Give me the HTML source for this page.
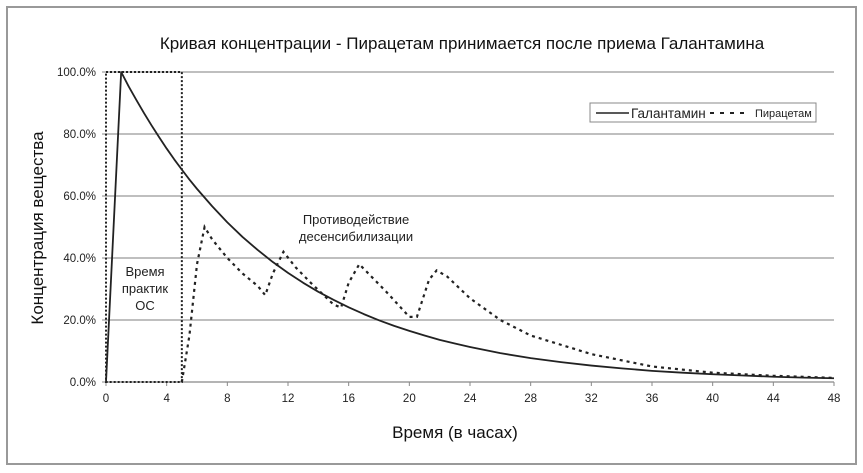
<!DOCTYPE html>
<html><head><meta charset="utf-8"><style>
body{margin:0;background:#fff;}
svg{display:block;font-family:"Liberation Sans","DejaVu Sans",sans-serif;}
</style></head><body>
<svg id="chart" width="863" height="473" viewBox="0 0 863 473">
<rect x="7" y="7" width="849" height="457" fill="#fff" stroke="#999" stroke-width="2"/>
<text x="462" y="49" text-anchor="middle" font-size="17" fill="#111">Кривая концентрации - Пирацетам принимается после приема Галантамина</text>
<g id="grid"></g>
<g id="axes"></g>
<text x="0" y="0" transform="translate(43,228) rotate(-90)" text-anchor="middle" font-size="17" fill="#111">Концентрация вещества</text>
<text x="455" y="438" text-anchor="middle" font-size="17" fill="#111">Время (в часах)</text>
<g id="series"></g>
<text x="145" y="276" text-anchor="middle" font-size="13" fill="#222"><tspan x="145">Время</tspan><tspan x="145" dy="17">практик</tspan><tspan x="145" dy="17">ОС</tspan></text>
<text x="356" y="224" text-anchor="middle" font-size="13" fill="#222"><tspan x="356">Противодействие</tspan><tspan x="356" dy="17">десенсибилизации</tspan></text>
<g>
<rect x="590" y="103" width="226" height="19" fill="#fff" stroke="#888" stroke-width="1"/>
<line x1="596" y1="113" x2="629" y2="113" stroke="#222" stroke-width="1.5"/>
<text x="631" y="118" font-size="13.5" fill="#222">Галантамин</text>
<line x1="710" y1="113" x2="750" y2="113" stroke="#222" stroke-width="2" stroke-dasharray="4,6"/>
<text x="755" y="117" font-size="11" fill="#222">Пирацетам</text>
</g>
</svg>
<script>
const xTicks = [0,4,8,12,16,20,24,28,32,36,40,44,48];
const yTicks = [0,20,40,60,80,100];
const yTickLabels = ["0.0%","20.0%","40.0%","60.0%","80.0%","100.0%"];
const galT = [0,1,1.5,2,2.5,3,3.5,4,4.5,5,5.5,6,7,8,9,10,11,12,13,14,15,16,17,18,19,20,21,22,23,24,26,28,30,32,34,36,38,40,42,44,46,48];
const galV = [0,100,95.3,91,86.8,82.8,79,75.3,71.8,68.5,65.3,62.3,56.7,51.5,46.8,42.6,38.7,35.2,32,29.1,26.5,24.1,21.9,19.9,18.1,16.5,15,13.6,12.4,11.3,9.3,7.7,6.4,5.3,4.4,3.6,3,2.5,2.1,1.7,1.4,1.2];
const pirT = [5,5.5,6,6.5,7,8,9,10,10.5,11,11.7,12.5,13.5,15,15.5,16,16.7,17.5,18.5,20,20.5,21.3,21.8,22.5,24,26,28,32,36,40,44,48];
const pirV = [0,15,38,50,46,40,35,31,28,35,42,37,32,25,24,32,38,34,29,21,21,33,36,34,27,20,15,9,5,3,2,1.3];
const boxT = [0,5];
const boxV = [0,100];
const X0=106,X1=834,Y0=382,Y1=72;
const sx=t=>X0+(t/48)*(X1-X0);
const sy=v=>Y0-(v/100)*(Y0-Y1);
const NS="http://www.w3.org/2000/svg";
function mk(tag,attrs,parent){const e=document.createElementNS(NS,tag);for(const k in attrs)e.setAttribute(k,attrs[k]);parent.appendChild(e);return e;}
const grid=document.getElementById('grid'),axes=document.getElementById('axes'),series=document.getElementById('series');
yTicks.forEach((v,i)=>{
  if(v>0){const l=mk('line',{x1:X0,x2:X1,y1:sy(v),y2:sy(v),stroke:'#999','stroke-width':1.2},grid);
  
  }
  const t=mk('text',{x:X0-10,y:sy(v)+4,'text-anchor':'end','font-size':11.5,fill:'#222'},axes);
  t.textContent=yTickLabels[i];
  
  
  const tk=mk('line',{x1:X0-4,x2:X0,y1:sy(v),y2:sy(v),stroke:'#888'},axes);
  
  
});
const xa=mk('line',{x1:X0,x2:X1,y1:Y0,y2:Y0,stroke:'#888','stroke-width':1.2},axes);


xTicks.forEach(v=>{
  const tk=mk('line',{x1:sx(v),x2:sx(v),y1:Y0,y2:Y0+4,stroke:'#888'},axes);
  
  
  const t=mk('text',{x:sx(v),y:Y0+20,'text-anchor':'middle','font-size':11.5,fill:'#222'},axes);
  t.textContent=v;
  
  
});
const box=mk('rect',{x:sx(boxT[0]),y:sy(boxV[1]),width:sx(boxT[1])-sx(boxT[0]),height:sy(boxV[0])-sy(boxV[1]),fill:'none',stroke:'#222','stroke-width':2,'stroke-dasharray':'2,2'},series);


const gp=mk('polyline',{points:galT.map((t,i)=>sx(t)+','+sy(galV[i])).join(' '),fill:'none',stroke:'#222','stroke-width':1.8,'stroke-linejoin':'round'},series);


const pp=mk('polyline',{points:pirT.map((t,i)=>sx(t)+','+sy(pirV[i])).join(' '),fill:'none',stroke:'#222','stroke-width':2.2,'stroke-dasharray':'3,4'},series);


</script>
</body></html>
